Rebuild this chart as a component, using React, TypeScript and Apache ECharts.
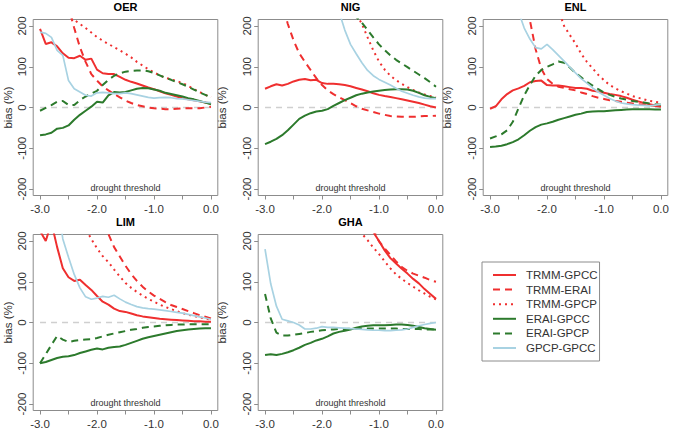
import { useEffect, useRef } from "react";
import * as echarts from "echarts";

// Drought threshold (x values shared by every curve)
const THRESHOLDS = [
  -3.0, -2.9, -2.8, -2.7, -2.6, -2.5, -2.4, -2.3, -2.2, -2.1, -2.0, -1.9, -1.8, -1.7, -1.6, -1.5,
  -1.4, -1.3, -1.2, -1.1, -1.0, -0.9, -0.8, -0.7, -0.6, -0.5, -0.4, -0.3, -0.2, -0.1, 0.0,
];

const PAIR_NAMES = ["TRMM-GPCC", "TRMM-ERAI", "TRMM-GPCP", "ERAI-GPCC", "ERAI-GPCP", "GPCP-GPCC"];
const X_TICKS = [-3.0, -2.5, -2.0, -1.5, -1.0, -0.5, 0.0];
const X_LABELS = [-3.0, -2.0, -1.0, 0.0];
const Y_TICKS = [-200, -100, 0, 100, 200];

// OER
const OER_TRMM_GPCC = [193, 156, 160, 150, 133, 122, 121, 127, 117, 120, 93, 84, 82, 82, 75, 68, 63, 59, 54, 49, 45, 40, 35, 31, 27, 23, 20, 18, 15, 12, 10];
const OER_TRMM_ERAI = [420, 380, 345, 310, 280, 245, 195, 148, 112, 82, 66, 52, 42, 33, 25, 17, 11, 6, 3, 0, -2, -3, -4, -4, -3, -2, -2, -2, -2, 0, 2];
const OER_TRMM_GPCP = [330, 310, 290, 270, 250, 232, 215, 205, 195, 184, 173, 164, 156, 148, 140, 132, 123, 112, 103, 94, 86, 79, 73, 69, 65, 60, 53, 45, 38, 31, 25];
const OER_ERAI_GPCC = [-68, -66, -62, -52, -50, -44, -30, -18, -8, 2, 14, 12, 30, 38, 37, 38, 42, 46, 48, 47, 44, 41, 36, 33, 30, 27, 23, 20, 16, 12, 8];
const OER_ERAI_GPCP = [-8, -1, 6, 14, 16, 6, 6, 18, 27, 34, 41, 55, 68, 78, 84, 88, 90, 91, 91, 89, 85, 79, 73, 68, 62, 57, 51, 44, 37, 31, 25];
const OER_GPCP_GPCC = [185, 182, 172, 140, 128, 66, 46, 38, 30, 28, 36, 37, 36, 34, 34, 36, 34, 31, 28, 25, 23, 24, 25, 24, 22, 21, 19, 17, 15, 13, 12];

// NIG
const NIG_TRMM_GPCC = [46, 52, 57, 54, 58, 64, 68, 70, 67, 68, 60, 58, 58, 57, 55, 52, 48, 44, 40, 35, 31, 28, 26, 23, 20, 17, 14, 11, 7, 3, 0];
const NIG_TRMM_ERAI = [380, 340, 300, 255, 205, 165, 133, 112, 92, 72, 55, 42, 33, 25, 18, 11, 3, -3, -7, -11, -15, -18, -21, -22, -23, -23, -23, -22, -21, -21, -20];
const NIG_TRMM_GPCP = [720, 680, 640, 600, 565, 530, 495, 460, 430, 400, 370, 345, 318, 292, 268, 247, 230, 205, 172, 140, 113, 93, 78, 67, 58, 50, 43, 37, 32, 28, 25];
const NIG_ERAI_GPCC = [-90, -84, -77, -68, -56, -42, -28, -20, -14, -10, -8, -4, 4, 11, 18, 24, 30, 34, 37, 39, 41, 43, 44, 45, 45, 44, 41, 36, 30, 26, 23];
const NIG_ERAI_GPCP = [640, 600, 560, 525, 490, 455, 425, 395, 368, 342, 318, 297, 278, 260, 244, 230, 222, 208, 190, 172, 155, 141, 128, 117, 108, 99, 90, 81, 72, 62, 51];
const NIG_GPCP_GPCC = [600, 560, 520, 485, 450, 415, 385, 355, 328, 302, 280, 260, 243, 235, 190, 155, 132, 110, 91, 78, 69, 62, 55, 47, 40, 35, 30, 26, 23, 22, 22];

// ENL
const ENL_TRMM_GPCC = [-3, 3, 20, 33, 42, 47, 53, 62, 65, 66, 55, 54, 54, 52, 50, 48, 48, 46, 41, 39, 36, 33, 31, 28, 24, 19, 15, 11, 8, 5, 2];
const ENL_TRMM_ERAI = [700, 640, 580, 520, 460, 400, 300, 214, 143, 95, 70, 58, 51, 48, 45, 42, 37, 33, 28, 24, 21, 18, 16, 14, 12, 10, 8, 7, 5, 4, 2];
const ENL_TRMM_GPCP = [700, 650, 600, 555, 510, 470, 430, 395, 360, 330, 300, 272, 240, 200, 178, 157, 132, 112, 96, 80, 67, 55, 47, 40, 34, 28, 24, 20, 16, 14, 12];
const ENL_ERAI_GPCC = [-97, -96, -94, -90, -85, -78, -68, -57, -48, -42, -39, -35, -30, -26, -22, -18, -15, -11, -10, -9, -9, -8, -7, -6, -5, -4, -4, -4, -4, -5, -5];
const ENL_ERAI_GPCP = [-76, -71, -66, -56, -35, -2, 30, 55, 78, 92, 100, 106, 113, 110, 98, 85, 74, 63, 54, 45, 37, 31, 26, 22, 19, 16, 14, 12, 10, 8, 7];
const ENL_GPCP_GPCC = [450, 410, 370, 330, 290, 235, 195, 168, 147, 144, 155, 142, 128, 114, 99, 85, 71, 60, 48, 38, 30, 22, 16, 11, 9, 7, 6, 5, 4, 6, 8];

// LIM
const LIM_TRMM_GPCC = [225, 200, 245, 185, 133, 111, 102, 105, 92, 80, 65, 51, 44, 34, 28, 26, 22, 18, 15, 13, 11, 9, 8, 7, 6, 5, 4, 3, 3, 2, 2];
const LIM_TRMM_ERAI = [560, 530, 500, 470, 440, 410, 380, 350, 322, 295, 270, 245, 217, 185, 162, 139, 119, 102, 88, 76, 66, 58, 50, 43, 38, 33, 28, 23, 18, 14, 10];
const LIM_TRMM_GPCP = [450, 420, 390, 360, 332, 305, 280, 255, 230, 205, 182, 163, 148, 130, 113, 97, 85, 75, 66, 58, 51, 44, 38, 33, 28, 23, 19, 16, 13, 10, 7];
const LIM_ERAI_GPCC = [-100, -97, -92, -87, -84, -83, -80, -75, -71, -67, -64, -66, -62, -60, -59, -55, -50, -45, -40, -36, -33, -30, -27, -24, -21, -19, -17, -16, -15, -14, -14];
const LIM_ERAI_GPCP = [-100, -78, -55, -33, -42, -48, -45, -43, -42, -41, -38, -34, -30, -27, -24, -21, -18, -16, -13, -11, -10, -8, -7, -6, -5, -5, -4, -4, -4, -4, -4];
const LIM_GPCP_GPCC = [420, 380, 340, 300, 205, 160, 118, 85, 63, 57, 60, 64, 62, 67, 58, 50, 44, 39, 36, 34, 33, 31, 29, 27, 25, 23, 20, 17, 14, 11, 8];

// GHA
const GHA_TRMM_GPCC = [800, 760, 720, 680, 640, 600, 565, 530, 495, 460, 430, 400, 370, 345, 320, 295, 275, 255, 240, 222, 200, 177, 158, 145, 132, 120, 107, 96, 82, 70, 58];
const GHA_TRMM_ERAI = [790, 760, 730, 700, 670, 640, 610, 580, 550, 520, 490, 460, 430, 400, 370, 340, 310, 282, 255, 228, 199, 182, 166, 150, 136, 127, 120, 115, 110, 104, 100];
const GHA_TRMM_GPCP = [635, 610, 585, 560, 535, 510, 485, 460, 435, 410, 385, 360, 335, 310, 285, 262, 240, 218, 202, 184, 168, 150, 133, 118, 107, 97, 88, 79, 71, 63, 57];
const GHA_ERAI_GPCC = [-80, -78, -80, -77, -73, -68, -62, -55, -50, -44, -40, -34, -27, -23, -20, -17, -13, -10, -8, -7, -7, -7, -6, -5, -5, -6, -8, -11, -14, -16, -18];
const GHA_ERAI_GPCP = [70, 10, -25, -32, -32, -30, -28, -26, -23, -21, -19, -18, -17, -16, -16, -15, -15, -15, -15, -15, -15, -15, -15, -15, -16, -16, -16, -16, -17, -17, -17];
const GHA_GPCP_GPCC = [180, 95, 40, 8, 4, 0, -6, -16, -16, -14, -10, -12, -12, -13, -14, -15, -16, -17, -18, -19, -19, -20, -20, -19, -18, -16, -12, -8, -5, -2, 0];

const PANELS = [
  { region: "OER", curves: [OER_TRMM_GPCC, OER_TRMM_ERAI, OER_TRMM_GPCP, OER_ERAI_GPCC, OER_ERAI_GPCP, OER_GPCP_GPCC] },
  { region: "NIG", curves: [NIG_TRMM_GPCC, NIG_TRMM_ERAI, NIG_TRMM_GPCP, NIG_ERAI_GPCC, NIG_ERAI_GPCP, NIG_GPCP_GPCC] },
  { region: "ENL", curves: [ENL_TRMM_GPCC, ENL_TRMM_ERAI, ENL_TRMM_GPCP, ENL_ERAI_GPCC, ENL_ERAI_GPCP, ENL_GPCP_GPCC] },
  { region: "LIM", curves: [LIM_TRMM_GPCC, LIM_TRMM_ERAI, LIM_TRMM_GPCP, LIM_ERAI_GPCC, LIM_ERAI_GPCP, LIM_GPCP_GPCC] },
  { region: "GHA", curves: [GHA_TRMM_GPCC, GHA_TRMM_ERAI, GHA_TRMM_GPCP, GHA_ERAI_GPCC, GHA_ERAI_GPCP, GHA_GPCP_GPCC] },
];

const RED = "#ef2f2f";
const GREEN = "#2c7a2c";
const LIGHT_BLUE = "#a8d2e2";
const AXIS_GREY = "#8c8c8c";
const TEXT = "#333333";
const FONT = "'Liberation Sans', Arial, Helvetica, sans-serif";

const LINE_STYLES = [
  { color: RED, type: "solid", width: 2 },
  { color: RED, type: [7, 5], width: 2 },
  { color: RED, type: [2, 4], width: 2 },
  { color: GREEN, type: "solid", width: 2 },
  { color: GREEN, type: [7, 5], width: 2 },
  { color: LIGHT_BLUE, type: "solid", width: 1.7 },
];

// panel boxes (pixels)
const COL_X = [33.2, 258.2, 483.2];
const ROW_Y = [19.5, 234.5];
const BOX_W = 184.6;
const BOX_H = 176;

function buildOption() {
  const grid: any[] = [];
  const xAxis: any[] = [];
  const yAxis: any[] = [];
  const series: any[] = [];
  const graphic: any[] = [];

  PANELS.forEach((panel, i) => {
    const col = i % 3;
    const left = COL_X[col];
    const top = ROW_Y[Math.floor(i / 3)];
    grid.push({
      left,
      top,
      width: BOX_W,
      height: BOX_H,
      containLabel: false,
      outerBoundsMode: "none",
      show: true,
      borderColor: AXIS_GREY,
      borderWidth: 1,
      backgroundColor: "transparent",
    });
    xAxis.push({
      type: "value",
      gridIndex: i,
      position: "bottom",
      min: -3.12,
      max: 0.12,
      axisLine: { show: false, onZero: false },
      splitLine: { show: false },
      axisTick: { show: true, customValues: X_TICKS, length: 4, lineStyle: { color: AXIS_GREY } },
      axisLabel: {
        customValues: X_LABELS,
        formatter: (v: number) => v.toFixed(1),
        fontSize: 11.5,
        fontFamily: FONT,
        color: TEXT,
        margin: 7,
      },
    });
    yAxis.push({
      type: "value",
      gridIndex: i,
      position: "left",
      min: -216,
      max: 216,
      axisLine: { show: false, onZero: false },
      splitLine: { show: false },
      axisTick: { show: true, customValues: Y_TICKS, length: 4, lineStyle: { color: AXIS_GREY } },
      axisLabel: {
        customValues: Y_TICKS,
        rotate: 90,
        fontSize: 11.5,
        fontFamily: FONT,
        color: TEXT,
        margin: 5,
      },
      name: "bias (%)",
      nameLocation: "middle",
      // the first column sits against the page edge
      nameGap: col === 0 ? 20 : 31,
      nameTextStyle: { fontSize: 11.5, fontFamily: FONT, color: TEXT, lineHeight: 11 },
    });

    // horizontal zero reference
    series.push({
      type: "line",
      name: "zero",
      xAxisIndex: i,
      yAxisIndex: i,
      data: [
        [THRESHOLDS[0], 0],
        [THRESHOLDS[THRESHOLDS.length - 1], 0],
      ],
      symbol: "none",
      silent: true,
      lineStyle: { color: "#cfcfcf", type: [6, 5], width: 1.5 },
    });

    panel.curves.forEach((values, k) => {
      series.push({
        type: "line",
        name: PAIR_NAMES[k],
        xAxisIndex: i,
        yAxisIndex: i,
        data: THRESHOLDS.map((t, j) => [t, values[j]]),
        symbol: "none",
        showSymbol: false,
        clip: true,
        itemStyle: { color: LINE_STYLES[k].color },
        lineStyle: LINE_STYLES[k],
      });
    });

    graphic.push({
      type: "text",
      x: left + BOX_W / 2,
      y: top - 13,
      style: {
        text: panel.region,
        font: `bold 11px ${FONT}`,
        fill: "#000",
        align: "center",
        verticalAlign: "middle",
      },
    });
    graphic.push({
      type: "text",
      x: left + BOX_W / 2,
      y: top + BOX_H - 7.5,
      style: {
        text: "drought threshold",
        font: `9px ${FONT}`,
        fill: TEXT,
        align: "center",
        verticalAlign: "middle",
      },
    });
  });

  return {
    animation: false,
    backgroundColor: "#ffffff",
    grid,
    xAxis,
    yAxis,
    series,
    graphic,
    legend: {
      data: PAIR_NAMES,
      orient: "vertical",
      left: 482,
      top: 262,
      padding: [7, 2, 7, 10],
      itemWidth: 23,
      itemHeight: 12,
      itemGap: 2.6,
      selectedMode: false,
      borderColor: AXIS_GREY,
      borderWidth: 1,
      itemStyle: { opacity: 0, borderWidth: 0 },
      textStyle: {
        fontSize: 11.5,
        fontFamily: FONT,
        color: TEXT,
        lineHeight: 12,
        padding: [0, 0, 0, 5],
      },
    },
  };
}

export default function App() {
  const ref = useRef<HTMLDivElement>(null);
  useEffect(() => {
    if (!ref.current) return;
    const chart = echarts.init(ref.current, undefined, { renderer: "svg" });
    chart.setOption(buildOption() as any);
    return () => chart.dispose();
  }, []);
  return (
    <div
      ref={ref}
      style={{ position: "absolute", left: 0, top: 0, width: 675, height: 430 }}
    />
  );
}
